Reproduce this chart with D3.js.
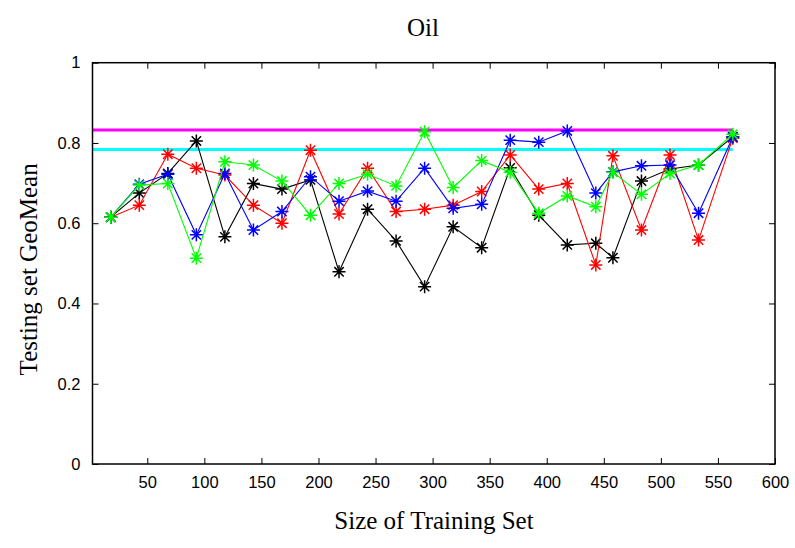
<!DOCTYPE html>
<html>
<head>
<meta charset="utf-8">
<script src="https://cdn.jsdelivr.net/npm/d3@7"></script>
<style>
  html, body { margin: 0; padding: 0; background: #fff; }
  svg { display: block; }
</style>
</head>
<body>
<svg id="chart" width="795" height="548"></svg>
<script>
// Training set sizes
const sizes = [18, 43, 68, 93, 118, 143, 168, 193, 218, 243, 268, 293, 318, 343, 368, 393, 418, 443, 458, 483, 508, 533, 563];

// Testing-set GeoMean per method
const blackVals = [0.615, 0.675, 0.724, 0.805, 0.566, 0.699, 0.685, 0.708, 0.479, 0.635, 0.556, 0.442, 0.591, 0.539, 0.738, 0.620, 0.546, 0.550, 0.514, 0.705, 0.735, 0.745, 0.815];
const redVals   = [0.615, 0.645, 0.772, 0.737, 0.720, 0.645, 0.600, 0.782, 0.623, 0.737, 0.629, 0.635, 0.645, 0.679, 0.770, 0.685, 0.699, 0.496, 0.768, 0.583, 0.770, 0.558, 0.812];
const blueVals  = [0.615, 0.697, 0.722, 0.571, 0.724, 0.583, 0.629, 0.716, 0.655, 0.680, 0.655, 0.737, 0.637, 0.647, 0.807, 0.802, 0.830, 0.675, 0.728, 0.743, 0.745, 0.625, 0.815];
const greenVals = [0.615, 0.695, 0.699, 0.513, 0.753, 0.745, 0.705, 0.620, 0.699, 0.722, 0.693, 0.828, 0.689, 0.756, 0.727, 0.625, 0.668, 0.641, 0.727, 0.672, 0.724, 0.745, 0.822];

// Reference levels
const magentaLevel = 0.832;
const cyanLevel = 0.784;

const xTicks = [50, 100, 150, 200, 250, 300, 350, 400, 450, 500, 550, 600];
const yTicks = [0, 0.2, 0.4, 0.6, 0.8, 1];

const series = [
  { values: blackVals, color: "#000000" },
  { values: redVals,   color: "#ff0000" },
  { values: blueVals,  color: "#0000ff" },
  { values: greenVals, color: "#00ff00" }
];

(function draw() {
  const svg = d3.select("#chart");
  const mLeft = 92.5, mRight = 775, mTop = 62.7, mBottom = 464;

  const x = d3.scaleLinear().domain([2, 600]).range([mLeft, mRight]);
  const y = d3.scaleLinear().domain([0, 1]).range([mBottom, mTop]);

  const tickFont = "'Liberation Sans', Arial, sans-serif";
  const serif = "'Liberation Serif', 'Times New Roman', serif";

  // Reference lines
  [[magentaLevel, "#ff00ff"], [cyanLevel, "#00ffff"]].forEach(([lv, c]) => {
    svg.append("line")
      .attr("x1", x(2)).attr("x2", x(sizes[sizes.length - 1]))
      .attr("y1", y(lv)).attr("y2", y(lv))
      .attr("stroke", c).attr("stroke-width", 3);
  });

  // Series lines and asterisk markers
  const line = d3.line().x((d, i) => x(sizes[i])).y(d => y(d));
  const r = 6.5;
  const starPath = (cx, cy) => {
    const d = r * 0.72;
    return `M${cx - r},${cy}L${cx + r},${cy}M${cx},${cy - r}L${cx},${cy + r}` +
           `M${cx - d},${cy - d}L${cx + d},${cy + d}M${cx - d},${cy + d}L${cx + d},${cy - d}`;
  };

  series.forEach(s => {
    const g = svg.append("g");
    g.append("path")
      .attr("d", line(s.values))
      .attr("fill", "none")
      .attr("stroke", s.color)
      .attr("stroke-width", 1.1);
    g.selectAll("path.m")
      .data(s.values)
      .join("path")
      .attr("class", "m")
      .attr("d", (d, i) => starPath(x(sizes[i]), y(d)))
      .attr("stroke", s.color)
      .attr("stroke-width", 1.5)
      .attr("fill", "none");
  });

  // Axes: inward ticks on all four sides
  const xAxisB = d3.axisBottom(x).tickValues(xTicks).tickSizeInner(-6).tickSizeOuter(0).tickPadding(12);
  const xAxisT = d3.axisTop(x).tickValues(xTicks).tickSizeInner(-6).tickSizeOuter(0).tickFormat("");
  const yAxisL = d3.axisLeft(y).tickValues(yTicks).tickSizeInner(-6).tickSizeOuter(0).tickPadding(12)
    .tickFormat(d => d === 0 || d === 1 ? d3.format("d")(d) : d3.format(".1f")(d));
  const yAxisR = d3.axisRight(y).tickValues(yTicks).tickSizeInner(-6).tickSizeOuter(0).tickFormat("");

  function style(g) {
    g.select(".domain").remove();
    g.selectAll(".tick line").attr("stroke", "#000").attr("stroke-width", 1);
    g.selectAll(".tick text").attr("font-family", tickFont).attr("font-size", 16.5).attr("fill", "#000");
  }

  svg.append("g").attr("transform", `translate(0,${mBottom})`).call(xAxisB).call(style);
  svg.append("g").attr("transform", `translate(0,${mTop})`).call(xAxisT).call(style);
  svg.append("g").attr("transform", `translate(${mLeft},0)`).call(yAxisL).call(style);
  svg.append("g").attr("transform", `translate(${mRight},0)`).call(yAxisR).call(style);

  // Plot frame
  svg.append("rect")
    .attr("x", mLeft).attr("y", mTop)
    .attr("width", mRight - mLeft).attr("height", mBottom - mTop)
    .attr("fill", "none").attr("stroke", "#000").attr("stroke-width", 1.5);

  // Title and axis labels
  svg.append("text")
    .attr("x", 423).attr("y", 36)
    .attr("text-anchor", "middle")
    .attr("font-family", serif).attr("font-size", 25)
    .text("Oil");

  svg.append("text")
    .attr("x", 434).attr("y", 529)
    .attr("text-anchor", "middle")
    .attr("font-family", serif).attr("font-size", 25)
    .text("Size of Training Set");

  svg.append("text")
    .attr("transform", `translate(37,${(mTop + mBottom) / 2 + 6}) rotate(-90)`)
    .attr("text-anchor", "middle")
    .attr("font-family", serif).attr("font-size", 25)
    .text("Testing set GeoMean");
})();
</script>
</body>
</html>
